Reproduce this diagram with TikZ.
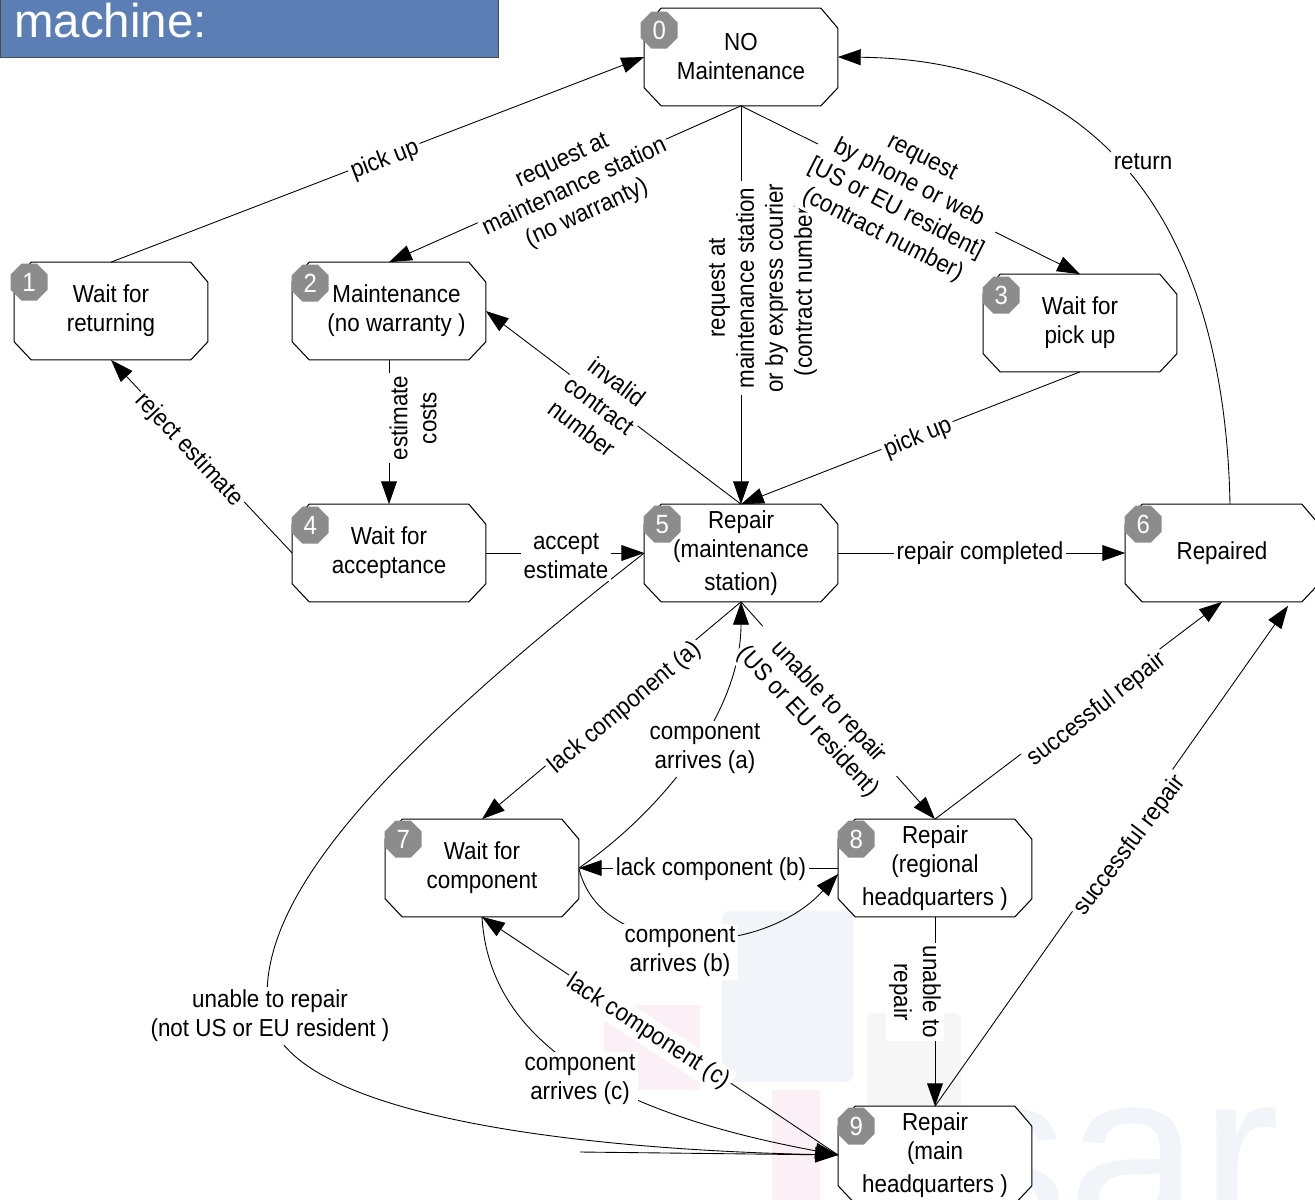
\documentclass[tikz,border=0pt]{standalone}
\usepackage{fontspec}
\setmainfont{Liberation Sans}[FakeStretch=0.91]
\newfontfamily\titlefont{Liberation Sans}
\usetikzlibrary{shapes.geometric,arrows.meta,calc}
\definecolor{titleblue}{HTML}{5B7FB5}
\definecolor{badgegray}{HTML}{8C8C8C}
\definecolor{wmblue}{HTML}{F1F5FA}
\definecolor{wmpink}{HTML}{FBF0F5}
\definecolor{wmgray}{HTML}{F6F6F6}
\pgfdeclarelayer{wmlayer}
\pgfdeclarelayer{boxlayer}
\pgfsetlayers{wmlayer,boxlayer,main}
\newcommand\chbox[1]{\filldraw[fill=white,line width=0.6pt]
  ($(#1.north west)+(17,0)$) -- ($(#1.north east)+(-17,0)$) --
  ($(#1.north east)+(0,20)$) -- ($(#1.south east)+(0,-18)$) --
  ($(#1.south east)+(-17,0)$) -- ($(#1.south west)+(17,0)$) --
  ($(#1.south west)+(0,-18)$) -- ($(#1.north west)+(0,20)$) -- cycle;}
\begin{document}
\begin{tikzpicture}[x=0.02cm,y=-0.02cm,
  font=\fontsize{14}{16.5}\selectfont,
  state/.style={rectangle,minimum width=3.86cm,minimum height=1.94cm,
    inner sep=0pt,align=center},
  badge/.style={regular polygon,regular polygon sides=8,fill=badgegray,
    minimum size=0.8cm,inner sep=0pt,text=white,font=\fontsize{15}{15}\selectfont},
  conn/.style={draw,line width=0.5pt,-{Triangle[length=13pt,width=9pt]}},
  plain/.style={draw,line width=0.5pt},
  lab/.style={fill=white,inner sep=1.5pt,align=center},
  wm/.style={inner sep=0pt}]
\useasboundingbox (0,0) rectangle (1315,1200);
\begin{pgfonlayer}{wmlayer}
\fill[white] (0,0) rectangle (1315,1200);
\fill[wmblue,rounded corners=4pt] (722,911) rectangle (853,1082);
\fill[wmgray,rounded corners=4pt] (867,1013) rectangle (961,1137);
\fill[wmpink] (604,1005) rectangle (700,1090);
\fill[wmpink] (772,1090) rectangle (820,1200);
\node[wm,anchor=base west,text=wmblue,font=\titlefont\fontsize{136}{136}\selectfont] (wmtext) at (948,1236) {sar};
\end{pgfonlayer}
% title
\node[draw=black!70,fill=titleblue,line width=0.6pt,minimum width=9.96cm,minimum height=1.16cm,anchor=north west,inner sep=0pt] (title) at (0,-1) {};
\node[anchor=base west,text=white,inner sep=0pt,font=\titlefont\fontsize{27}{27}\selectfont] (titletext) at (14,37) {machine:};
% states
\node[state] (n0) at (741,57) {NO\\Maintenance};
\node[state] (n1) at (111,311) {Wait for\\returning};
\node[state] (n2) at (389,311) {\hspace*{0.3cm}Maintenance\\\hspace*{0.3cm}(no warranty )};
\node[state] (n3) at (1080,323) {Wait for\\pick up};
\node[state] (n4) at (389,553) {Wait for\\acceptance};
\node[state] (n5) at (741,553) {Repair\\(maintenance\\[2pt]station)};
\node[state] (n6) at (1222,553) {Repaired};
\node[state] (n7) at (482,868) {Wait for\\component};
\node[state] (n8) at (935,868) {Repair\\(regional\\[2pt]headquarters )};
\node[state] (n9) at (935,1155) {Repair\\(main\\[2pt]headquarters )};
\begin{pgfonlayer}{boxlayer}
\chbox{n0}\chbox{n1}\chbox{n2}\chbox{n3}\chbox{n4}
\chbox{n5}\chbox{n6}\chbox{n7}\chbox{n8}\chbox{n9}
\end{pgfonlayer}
% badges
\node[badge] (b0) at ($(n0.north west)+(15,22)$) {0};
\node[badge] (b1) at ($(n1.north west)+(15,20)$) {1};
\node[badge] (b2) at ($(n2.north west)+(18,21)$) {2};
\node[badge] (b3) at ($(n3.north west)+(18,21)$) {3};
\node[badge] (b4) at ($(n4.north west)+(18,21)$) {4};
\node[badge] (b5) at ($(n5.north west)+(18,20)$) {5};
\node[badge] (b6) at ($(n6.north west)+(18,20)$) {6};
\node[badge] (b7) at ($(n7.north west)+(18,20)$) {7};
\node[badge] (b8) at ($(n8.north west)+(18,20)$) {8};
\node[badge] (b9) at ($(n9.north west)+(18,20)$) {9};
% connectors
\coordinate (s9) at (580,1152);
\coordinate (n6top) at ($(n6.north)+(8,0)$);
\coordinate (n6bot) at ($(n6.south)+(66,4)$);
\draw[conn] (n1.north) -- (n0.west);
\draw[conn] (n0.south) -- (n2.north);
\draw[conn] (n0.south) -- (n5.north);
\draw[conn] (n0.south) -- (n3.north);
\draw[conn] (n3.south) -- (n5.north);
\draw[conn] (n6top) .. controls (1225,250) and (1120,60) .. (n0.east);
\draw[conn] (n2.south) -- (n4.north);
\draw[conn] (n5.north) -- (n2.east);
\draw[conn] (n4.west) -- (n1.south);
\draw[conn] (n4.east) -- (n5.west);
\draw[conn] (n5.east) -- (n6.west);
\draw[conn] (n5.south) -- (n7.north);
\draw[conn] (n7.east) .. controls (650,820) and (741,720) .. (n5.south);
\draw[conn] (n5.south) -- (n8.north);
\draw[conn] (n8.north) -- (n6.south);
\draw[conn] (n9.north) -- (n6bot);
\draw[conn] (n8.south) -- (n9.north);
\draw[conn] (n8.west) -- (n7.east);
\draw[conn] (n7.east) .. controls (600,960) and (760,960) .. ($(n8.west)+(0,6)$);
\draw[conn] (n9.west) -- (n7.south);
\draw[conn] (n7.south) .. controls (490,1060) and (650,1120) .. (n9.west);
\draw[conn] (n5.west) .. controls (380,760) and (255,900) .. (268,1010)
   .. controls (280,1120) and (600,1150) .. (n9.west);
\draw[plain] (s9) -- (n9.west);
% labels
\node[lab,rotate=21] (l1) at (385,160) {pick up};
\node[lab,rotate=25] (l2) at (575,188) {request at\\maintenance station\\(no warranty)};
\node[lab,rotate=90] (l3) at (763,288) {request at\\maintenance station\\or by express courier\\(contract number)};
\node[lab,rotate=-27] (l4) at (902,197) {request\\by phone or web\\{[US or EU resident]}\\(contract number)};
\node[lab,rotate=22] (l5) at (918,438) {pick up};
\node[lab] (l6) at (1143,162) {return};
\node[lab,rotate=90] (l7) at (413,418) {estimate\\costs};
\node[lab,rotate=-37] (l8) at (600,405) {invalid\\contract\\number};
\node[lab,rotate=-47] (l9) at (189,450) {reject estimate};
\node[lab] (l10) at (566,556) {accept\\estimate};
\node[lab] (l11) at (980,553) {repair completed};
\node[lab,rotate=40] (l12) at (625,708) {lack component (a)};
\node[lab] (l13) at (705,749) {component\\arrives (a)};
\node[lab,rotate=-47] (l14) at (818,712) {unable to repair\\(US or EU resident)};
\node[lab,rotate=38] (l15) at (1097,710) {successful repair};
\node[lab,rotate=53] (l16) at (1130,846) {successful repair};
\node[lab,rotate=-90] (l17) at (915,992) {unable to\\repair};
\node[lab] (l18) at (711,869) {lack component (b)};
\node[lab] (l19) at (680,952) {component\\arrives (b)};
\node[lab,rotate=-33] (l20) at (648,1032) {lack component (c)};
\node[lab] (l21) at (580,1080) {component\\arrives (c)};
\node[lab] (l22) at (270,1016) {unable to repair\\(not US or EU resident )};
\end{tikzpicture}
\end{document}
